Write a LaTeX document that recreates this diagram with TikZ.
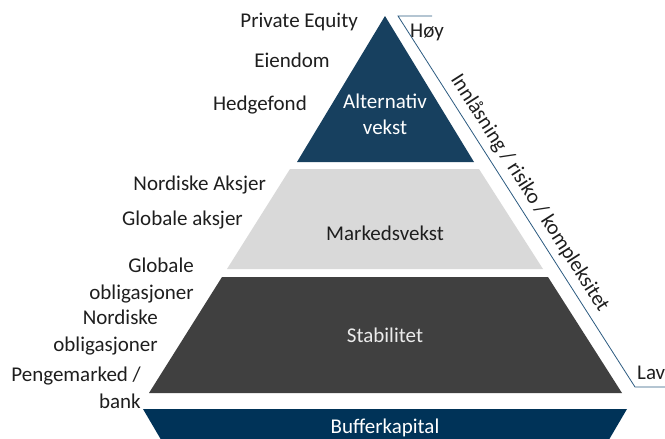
\documentclass[tikz,border=0pt]{standalone}
\usepackage{fontspec}
\setmainfont{Carlito}
\usepackage{tikz}

\definecolor{altblue}{HTML}{17405F}
\definecolor{mktgray}{HTML}{D9D9D9}
\definecolor{stabgray}{HTML}{404040}
\definecolor{bufblue}{HTML}{003358}
\definecolor{axisblue}{HTML}{2B5A80}
\definecolor{labeltext}{HTML}{1E1E1E}

\tikzset{
  lbl/.style={font=\fontsize{21}{27}\selectfont, text=labeltext, inner sep=0pt, align=right},
  lvl/.style={font=\fontsize{21}{26}\selectfont, inner sep=0pt, align=center}
}

\begin{document}
\begin{tikzpicture}[x=1pt, y=-1pt]
        \useasboundingbox (0,0) rectangle (665,439);
        \clip (0,0) rectangle (665,439);

        % the four levels, top to bottom
        \fill[altblue] (385,16) -- (474,162) -- (297,162) -- cycle;
        \fill[mktgray] (290,169) -- (479,169) -- (543,269) -- (227,269) -- cycle;
        \fill[stabgray] (222,277) -- (548,277) -- (622,393) -- (149,393) -- cycle;
        \fill[bufblue] (143,409) -- (627,409) -- (600,455) -- (170,455) -- cycle;

        \node[lvl, text=white] (alt) at (385,114) {Alternativ\\vekst};
        \node[lvl, text=labeltext] (mkt) at (385,233) {Markedsvekst};
        \node[lvl, text=white!92!black] (stab) at (385,335) {Stabilitet};
        \node[lvl, text=white] (buf) at (385,428) {Bufferkapital};

        % asset classes on the left
        \node[lbl, anchor=east] (pe) at (358,22) {Private Equity};
        \node[lbl, anchor=east] (eiendom) at (330,60) {Eiendom};
        \node[lbl, anchor=east] (hedge) at (307,105) {Hedgefond};
        \node[lbl, anchor=east] (nordaksjer) at (266,185) {Nordiske Aksjer};
        \node[lbl, anchor=east] (globaksjer) at (243,220) {Globale aksjer};
        \node[lbl, anchor=east] (globobl) at (194,280.5) {Globale\\obligasjoner};
        \node[lbl, anchor=east] (nordobl) at (158,333) {Nordiske\\obligasjoner};
        \node[lbl, anchor=east] (penger) at (141,387.5) {Pengemarked /\\bank};

        % scale along the right side
        \coordinate (top0) at (432,16);
        \coordinate (top1) at (398,16);
        \coordinate (bot1) at (635,387);
        \coordinate (bot0) at (665,387);
        \draw[color=axisblue, line width=0.8pt] (top0) -- (top1)
          -- node[lbl, sloped, above, inner sep=6pt, align=center] (scale) {Innlåsning / risiko / kompleksitet} (bot1)
          -- (bot0);
        \node[lbl, anchor=west] (hoy) at (410,32) {Høy};
        \node[lbl, anchor=west] (lav) at (637,373) {Lav};

\end{tikzpicture}
\end{document}
